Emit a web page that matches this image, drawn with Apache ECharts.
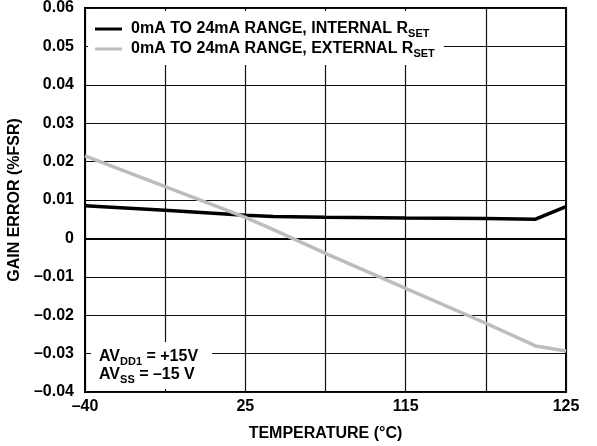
<!DOCTYPE html>
<html>
<head>
<meta charset="utf-8">
<script src="https://cdn.jsdelivr.net/npm/echarts@6/dist/echarts.min.js"></script>
<style>
  html, body { margin: 0; padding: 0; background: #fff; }
  #chart { width: 597px; height: 446px; }
</style>
</head>
<body>
<div id="chart"></div>
<script>
  // x positions are grid divisions (the printed axis is not linear in °C)
  var xPos = [0, 1, 2, 2.35, 3, 4, 5, 5.62, 6];
  var xTickLabels = { 0: '–40', 2: '25', 4: '115', 6: '125' };
  var internalErr = [0.0085, 0.0073, 0.0060, 0.0057, 0.0055, 0.0053, 0.0052, 0.0050, 0.0083];
  var externalErr = [0.0215, 0.0135, 0.0055, 0.0023, -0.0039, -0.0130, -0.0221, -0.0280, -0.0293];
  var seriesNames = ['0mA TO 24mA RANGE, INTERNAL R{s|SET}', '0mA TO 24mA RANGE, EXTERNAL R{s|SET}'];

  function pairs(xs, ys) {
    return xs.map(function (x, i) { return [x, ys[i]]; });
  }

  var font = 'Arial, "Liberation Sans", Helvetica, sans-serif';
  var fs = 16;
  var subStyle = { fontSize: 11, fontWeight: 'bold', fontFamily: font, color: '#000', padding: [9, 0, 0, 0], lineHeight: 16 };
  var mainStyle = { fontSize: fs, fontWeight: 'bold', fontFamily: font, color: '#000', lineHeight: 16 };
  var labelStyle = { fontSize: fs, fontWeight: 'bold', fontFamily: font, color: '#000' };

  var chart = echarts.init(document.getElementById('chart'), null, { renderer: 'canvas' });

  var option = {
    animation: false,
    backgroundColor: '#fff',
    grid: {
      left: 85, right: 31, top: 8, bottom: 54,
      outerBoundsMode: 'none',
      show: true, borderColor: '#000', borderWidth: 2
    },
    legend: {
      data: seriesNames,
      orient: 'vertical',
      left: 88, top: 11,
      backgroundColor: '#fff',
      padding: [8, 9, 6, 7],
      itemGap: 0,
      icon: 'rect',
      itemWidth: 27, itemHeight: 3,
      formatter: function (n) { return '{a|' + n.replace('R{s|SET}', 'R}{s|SET}'); },
      textStyle: {
        padding: [0, 0, 0, 4],
        rich: { a: mainStyle, s: subStyle }
      }
    },
    xAxis: {
      type: 'value',
      min: 0, max: 6, interval: 1,
      name: 'TEMPERATURE (°C)',
      nameLocation: 'middle',
      nameGap: 34,
      nameTextStyle: labelStyle,
      axisLine: { show: true, lineStyle: { color: '#000', width: 2 } },
      axisTick: { show: true, inside: true, length: 4, lineStyle: { color: '#000' } },
      axisLabel: Object.assign({}, labelStyle, {
        margin: 7,
        formatter: function (v) { return xTickLabels[v] || ''; }
      }),
      splitLine: { show: true, lineStyle: { color: '#111', width: 1.2 } }
    },
    yAxis: {
      type: 'value',
      min: -0.04, max: 0.06, interval: 0.01,
      name: 'GAIN ERROR (%FSR)',
      nameLocation: 'middle',
      nameGap: 52,
      nameTextStyle: labelStyle,
      axisLine: { show: true, lineStyle: { color: '#000', width: 2 } },
      axisTick: { show: true, inside: true, length: 4, lineStyle: { color: '#000' } },
      axisLabel: Object.assign({}, labelStyle, {
        margin: 11,
        formatter: function (v) {
          var r = Math.round(v * 100) / 100;
          if (r === 0) return '0';
          return r.toFixed(2).replace('-', '–');
        }
      }),
      splitLine: { show: true, lineStyle: { color: '#111', width: 1.2 } }
    },
    series: [
      {
        name: seriesNames[0],
        type: 'line',
        data: pairs(xPos, internalErr),
        symbol: 'none',
        z: 2,
        lineStyle: { color: '#000', width: 3.5 },
        itemStyle: { color: '#000' }
      },
      {
        name: seriesNames[1],
        type: 'line',
        data: pairs(xPos, externalErr),
        symbol: 'none',
        z: 3,
        lineStyle: { color: '#bdbdbd', width: 3.5 },
        itemStyle: { color: '#bdbdbd' }
      }
    ],
    graphic: [
      {
        type: 'rect',
        left: 91, top: 342,
        shape: { width: 121, height: 47 },
        style: { fill: '#fff' },
        z: 100
      },
      {
        type: 'text',
        left: 99, top: 347,
        z: 101,
        style: {
          text: '{a|AV}{s|DD1}{a| = +15V}\n{a|AV}{s|SS}{a| = –15 V}',
          rich: {
            a: Object.assign({}, mainStyle, { lineHeight: 18 }),
            s: Object.assign({}, subStyle, { lineHeight: 18 })
          }
        }
      }
    ]
  };

  chart.setOption(option);
</script>
</body>
</html>
